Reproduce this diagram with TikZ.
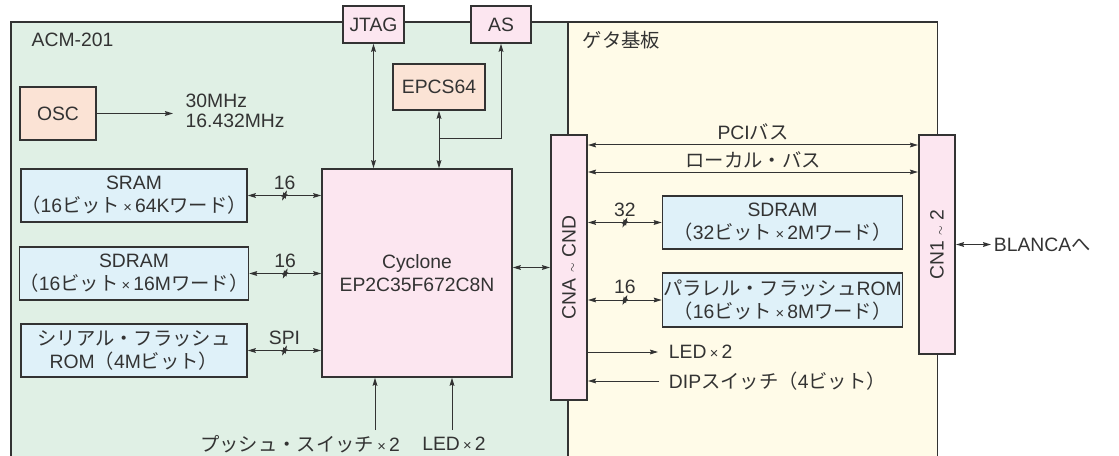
\documentclass[tikz,border=0pt]{standalone}
\usepackage{fontspec}
\setmainfont{Liberation Sans}
\newfontfamily\jpfont{Noto Sans CJK JP}
\newcommand{\jtxt}[1]{{\jpfont #1}}
\newcommand{\tms}{\,{\fontsize{11}{11}\selectfont ×}\,}
\usetikzlibrary{arrows.meta, decorations.markings}
\definecolor{acmgreen}{RGB}{224,240,229}
\definecolor{getacream}{RGB}{255,251,232}
\definecolor{chippink}{RGB}{252,230,240}
\definecolor{peach}{RGB}{251,227,213}
\definecolor{memblue}{RGB}{223,241,249}
\definecolor{linegray}{RGB}{51,51,51}

\begin{document}
\begin{tikzpicture}[x=0.75pt, y=-0.75pt,
  >={Stealth[length=6pt, width=3.6pt, inset=0.8pt]},
  every node/.style={font=\fontsize{14.5}{17.5}\selectfont, text=linegray},
  blk/.style 2 args={draw=linegray, line width=1.2pt, inner sep=0pt, align=center, minimum width=#1*0.75pt, minimum height=#2*0.75pt},
  panel/.style={draw=linegray, line width=0.9pt},
  arrow/.style={->, draw=linegray, line width=0.75pt},
  biarrow/.style={<->, draw=linegray, line width=0.75pt},
  bus/.style={biarrow, postaction={decorate, decoration={markings, mark=at position 0.5 with {\draw[line width=0.6pt] (-1.8pt,-3.8pt) -- (1.8pt,3.8pt);}}}},
]
\useasboundingbox (0,0) rectangle (1119,456);

% Boards
\fill[acmgreen] (11,22) rectangle (568,456);
\fill[getacream] (568,22) rectangle (937.5,456);
\draw[panel] (11,460) -- (11,22) -- (937.5,22) -- (937.5,460);
\draw[panel] (568,22) -- (568,460);
\node[anchor=west] (acm) at (27,40) {ACM-201};
\node[anchor=west] (geta) at (578,40) {\jtxt{ゲタ基板}};

% Config and clock
\node[blk={61}{37}, fill=chippink] (jtag) at (373.5,24.5) {JTAG};
\node[blk={60}{37}, fill=chippink] (as) at (501,24.5) {AS};
\node[blk={92}{46}, fill=peach] (epcs) at (439,87) {EPCS64};
\node[blk={76}{53}, fill=peach] (osc) at (58,113.5) {OSC};
\node[anchor=west, align=left, font=\fontsize{14.5}{15}\selectfont] (freq) at (181,111) {30MHz\\16.432MHz};

% Memories on ACM-201
\node[blk={226}{53}, fill=memblue] (sram) at (134,195.5) {SRAM\\\jtxt{（}16\jtxt{ビット}\tms64K\jtxt{ワード）}};
\node[blk={226}{53}, fill=memblue] (sdram) at (134,273.5) {SDRAM\\\jtxt{（}16\jtxt{ビット}\tms16M\jtxt{ワード）}};
\node[blk={226}{53}, fill=memblue] (sflash) at (134,350.5) {\jtxt{シリアル・フラッシュ}\\ROM\jtxt{（}4M\jtxt{ビット）}};

% FPGA
\node[blk={190}{208}, fill=chippink] (cyc) at (417,273) {Cyclone\\EP2C35F672C8N};

% Connectors
\node[blk={36.5}{265}, fill=chippink] (cna) at (569,267.5) {};
\node[rotate=90] (cnalbl) at (cna) {CNA {\small$\sim$} CND};
\node[blk={36.5}{219}, fill=chippink] (cn1) at (937,244.5) {};
\node[rotate=90] (cn1lbl) at (cn1) {CN1 {\small$\sim$} 2};

% Memories on the carrier board
\node[blk={240}{53}, fill=memblue] (sdramb) at (782.5,222.5) {SDRAM\\\jtxt{（}32\jtxt{ビット}\tms2M\jtxt{ワード）}};
\node[blk={240}{54}, fill=memblue] (pflash) at (782.5,300) {\jtxt{パラレル・フラッシュ}ROM\\\jtxt{（}16\jtxt{ビット}\tms8M\jtxt{ワード）}};

% Outside labels
\node[anchor=west, inner sep=2pt] (blanca) at (991,244.5) {BLANCA\jtxt{へ}};
\node[anchor=west, inner sep=2pt] (ledr) at (666,352) {LED\tms2};
\node[anchor=west, inner sep=2pt] (dip) at (666,381) {DIP\jtxt{スイッチ（}4\jtxt{ビット）}};
\node[inner sep=2pt] (push) at (300,444) {\jtxt{プッシュ・スイッチ}\tms2};
\node[inner sep=2pt] (ledb) at (454,444) {LED\tms2};

% Arrows
\coordinate (oscend) at (173,113.5);
\draw[arrow] (osc.east) -- (oscend);
\draw[biarrow] (jtag.south) -- (jtag.south |- cyc.north);
\draw[biarrow] (epcs.south) -- (epcs.south |- cyc.north);
\coordinate (asbr) at (epcs.south |- 0,139);
\draw[arrow] (asbr) -| (as.south);

\draw[bus] (sram.east) -- node[above=1pt]{16} (sram.east -| cyc.west);
\draw[bus] (sdram.east) -- node[above=1pt]{16} (sdram.east -| cyc.west);
\draw[bus] (sflash.east) -- node[above=1pt]{SPI} (sflash.east -| cyc.west);
\draw[biarrow] (cna.west -| cyc.east) -- (cna.west);

\coordinate (pcirow) at (0,145);
\coordinate (locrow) at (0,172);
\draw[biarrow] (cna.east |- pcirow) -- node[above=0pt]{PCI\jtxt{バス}} (cn1.west |- pcirow);
\draw[biarrow] (cna.east |- locrow) -- node[above=-1pt]{\jtxt{ローカル・バス}} (cn1.west |- locrow);
\draw[bus] (cna.east |- sdramb.west) -- node[above=1pt]{32} (sdramb.west);
\draw[bus] (cna.east |- pflash.west) -- node[above=1pt]{16} (pflash.west);
\draw[arrow] (cna.east |- ledr) -- ([xshift=-6pt]ledr.west);
\draw[arrow] ([xshift=-5pt]dip.west) -- (cna.east |- dip);
\draw[biarrow] (cn1.east) -- (blanca.west);

\coordinate (pushin) at (375,430);
\coordinate (ledin) at (452,430);
\draw[arrow] (pushin) -- (pushin |- cyc.south);
\draw[arrow] (ledin) -- (ledin |- cyc.south);
\end{tikzpicture}
\end{document}
